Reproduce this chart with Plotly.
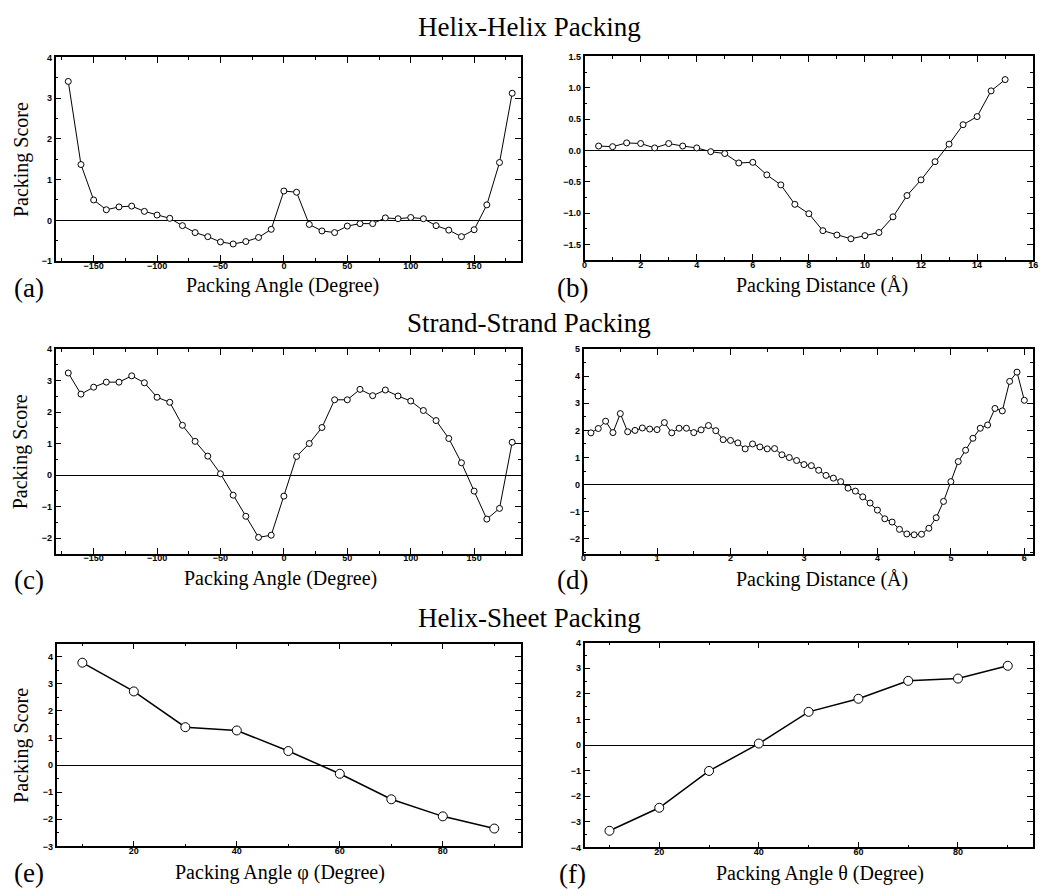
import plotly.graph_objects as go

W, H = 1060, 889

# ---------------- data ----------------
a_x = list(range(-170, 181, 10))
a_y = [3.41, 1.37, 0.50, 0.26, 0.33, 0.35, 0.22, 0.13, 0.05, -0.13,
       -0.30, -0.40, -0.53, -0.58, -0.52, -0.42, -0.22, 0.72, 0.69, -0.10,
       -0.26, -0.30, -0.14, -0.08, -0.08, 0.06, 0.04, 0.07, 0.04, -0.13,
       -0.24, -0.40, -0.23, 0.38, 1.42, 3.12]

b_x = [0.5 * i for i in range(1, 31)]
b_y = [0.07, 0.06, 0.12, 0.11, 0.04, 0.11, 0.07, 0.04, -0.02, -0.05,
       -0.20, -0.19, -0.39, -0.55, -0.86, -1.01, -1.28, -1.35, -1.41, -1.36,
       -1.31, -1.06, -0.72, -0.47, -0.18, 0.10, 0.41, 0.54, 0.95, 1.13]

c_x = list(range(-170, 181, 10))
c_y = [3.24, 2.57, 2.79, 2.95, 2.95, 3.15, 2.93, 2.47, 2.31, 1.58,
       1.07, 0.60, 0.04, -0.64, -1.31, -1.98, -1.91, -0.67, 0.59, 1.00,
       1.51, 2.39, 2.39, 2.72, 2.52, 2.70, 2.51, 2.35, 2.05, 1.73,
       1.16, 0.39, -0.51, -1.40, -1.06, 1.04]

d_x = [round(0.1 * i, 1) for i in range(1, 61)]
d_y = [1.91, 2.07, 2.34, 1.92, 2.62, 1.95, 2.00, 2.09, 2.05, 2.03,
       2.29, 1.91, 2.08, 2.08, 1.92, 2.02, 2.18, 1.99, 1.66, 1.63,
       1.54, 1.32, 1.50, 1.39, 1.32, 1.33, 1.10, 1.00, 0.89, 0.74,
       0.70, 0.53, 0.34, 0.24, 0.11, -0.13, -0.24, -0.45, -0.68, -0.94,
       -1.26, -1.38, -1.65, -1.82, -1.85, -1.83, -1.61, -1.22, -0.62, 0.11,
       0.85, 1.27, 1.71, 2.08, 2.20, 2.81, 2.72, 3.81, 4.15, 3.11]

e_x = [10, 20, 30, 40, 50, 60, 70, 80, 90]
e_y = [3.78, 2.72, 1.40, 1.28, 0.52, -0.32, -1.26, -1.89, -2.34]

f_x = [10, 20, 30, 40, 50, 60, 70, 80, 90]
f_y = [-3.35, -2.45, -1.01, 0.06, 1.30, 1.81, 2.51, 2.60, 3.10]

section_titles = ["Helix-Helix Packing", "Strand-Strand Packing", "Helix-Sheet Packing"]
x_titles = ["Packing Angle (Degree)", "Packing Distance (Å)",
            "Packing Angle (Degree)", "Packing Distance (Å)",
            "Packing Angle φ (Degree)", "Packing Angle θ (Degree)"]
panel_labels = ["(a)", "(b)", "(c)", "(d)", "(e)", "(f)"]

# ---------------- layout specs ----------------
panels = [
    dict(x=a_x, y=a_y, box=(53, 522, 53, 259), xr=[-180, 187], yr=[-1, 4],
         xd=50, xm=25, yd=1, ym=0.5, yfmt="", ms=6, lw=1),
    dict(x=b_x, y=b_y, box=(586, 1038, 52, 258), xr=[0, 16], yr=[-1.75, 1.5],
         xd=2, xm=1, yd=0.5, ym=0.25, yfmt=".1f", ms=6, lw=1),
    dict(x=c_x, y=c_y, box=(53, 522, 348, 555), xr=[-180, 187], yr=[-2.5, 4],
         xd=50, xm=25, yd=1, ym=0.5, yfmt="", ms=6, lw=1),
    dict(x=d_x, y=d_y, box=(585, 1038, 348, 555), xr=[0, 6.12], yr=[-2.55, 5],
         xd=1, xm=0.5, yd=1, ym=0.5, yfmt="", ms=6, lw=1),
    dict(x=e_x, y=e_y, box=(54, 522, 646, 851), xr=[5, 95.2], yr=[-3, 4.48],
         xd=20, xm=10, yd=1, ym=0.5, yfmt="", ms=9, lw=1.5),
    dict(x=f_x, y=f_y, box=(586, 1038, 645, 852), xr=[5, 95.1], yr=[-4, 4],
         xd=20, xm=10, yd=1, ym=0.5, yfmt="", ms=9, lw=1.5),
]

title_pos = [(282, 284), (825, 284), (280, 580), (825, 581), (279, 877), (823, 878)]
label_pos = [(26, 286), (574, 286), (26, 582), (574, 582), (26, 878), (574, 879)]
section_pos = [(530, 22), (530, 322), (530, 620)]

SERIF = "Liberation Serif"
SANS = "Liberation Sans"

fig = go.Figure()
layout = dict(width=W, height=H, margin=dict(l=0, r=0, t=0, b=0),
              paper_bgcolor="white", plot_bgcolor="white", showlegend=False)
annotations = []

for i, p in enumerate(panels):
    n = "" if i == 0 else str(i + 1)
    x0, x1, y0, y1 = p["box"]
    axis_common = dict(showline=True, linecolor="black", linewidth=1.5, mirror="allticks",
                       ticks="inside", ticklen=6, tickwidth=1.3, tickcolor="black",
                       showgrid=False,
                       tickfont=dict(family=SANS, size=9, color="black", weight="bold"))
    layout["xaxis" + n] = dict(axis_common, domain=[x0 / W, x1 / W], range=p["xr"],
                               anchor="y" + n, tick0=0, dtick=p["xd"], zeroline=False,
                               ticklabelstandoff=-5,
                               minor=dict(ticks="inside", ticklen=3, tickcolor="black",
                                          dtick=p["xm"], tick0=0, showgrid=False))
    layout["yaxis" + n] = dict(axis_common, domain=[1 - y1 / H, 1 - y0 / H], range=p["yr"],
                               anchor="x" + n, tick0=0, dtick=p["yd"], tickformat=p["yfmt"],
                               zeroline=True, zerolinecolor="black", zerolinewidth=1.3,
                               minor=dict(ticks="inside", ticklen=3, tickcolor="black",
                                          dtick=p["ym"], tick0=0, showgrid=False))
    fig.add_trace(go.Scatter(x=p["x"], y=p["y"], mode="lines+markers",
                             xaxis="x" + n, yaxis="y" + n,
                             line=dict(color="black", width=p["lw"]),
                             marker=dict(symbol="circle", size=p["ms"], color="white",
                                         line=dict(color="black", width=1))))
    tx, ty = title_pos[i]
    annotations.append(dict(text=x_titles[i], x=tx / W, y=1 - ty / H, xref="paper", yref="paper",
                            showarrow=False, xanchor="center", yanchor="middle",
                            font=dict(family=SERIF, size=20, color="black")))
    lx, ly = label_pos[i]
    annotations.append(dict(text=panel_labels[i], x=lx / W, y=1 - ly / H, xref="paper", yref="paper",
                            showarrow=False, xanchor="center", yanchor="middle",
                            font=dict(family=SERIF, size=27, color="black")))
    if i % 2 == 0:
        annotations.append(dict(text="Packing Score", x=18 / W, y=1 - ((y0 + y1) / 2) / H,
                                xref="paper", yref="paper", showarrow=False, textangle=-90,
                                xanchor="center", yanchor="middle",
                                font=dict(family=SERIF, size=20, color="black")))

for t, (sx, sy) in zip(section_titles, section_pos):
    annotations.append(dict(text=t, x=sx / W, y=1 - sy / H, xref="paper", yref="paper",
                            showarrow=False, xanchor="center", yanchor="middle",
                            font=dict(family=SERIF, size=27, color="black")))

layout["annotations"] = annotations
fig.update_layout(**layout)
fig.write_html("out.html")
